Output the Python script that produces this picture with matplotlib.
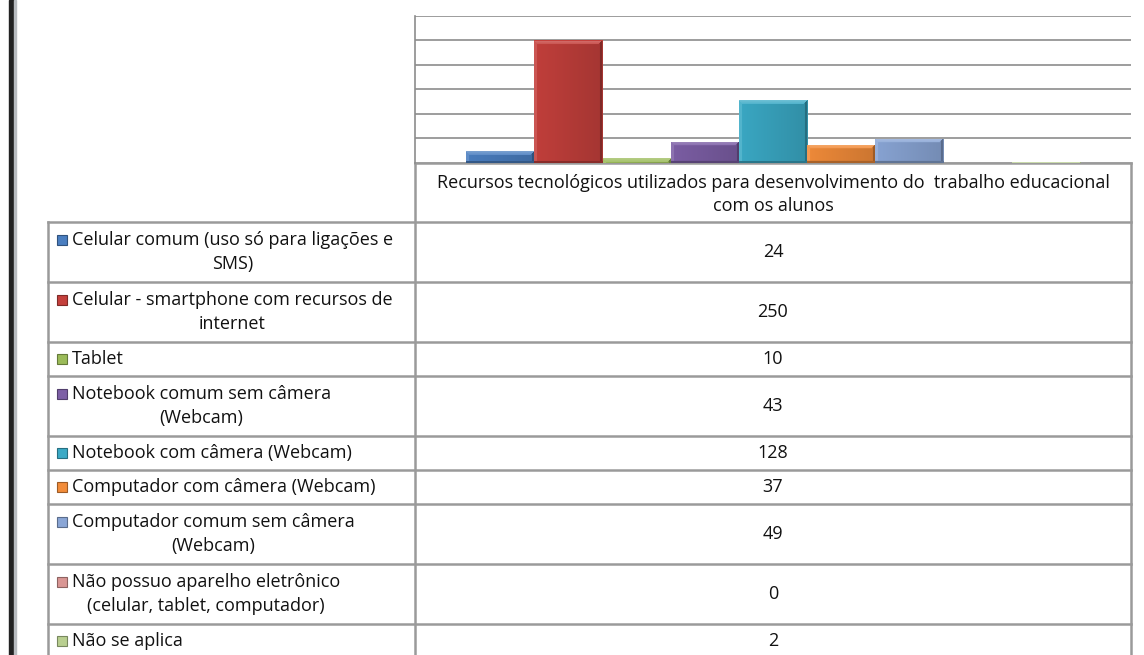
import numpy as np
import matplotlib
matplotlib.use("Agg")
import matplotlib.pyplot as plt
import matplotlib.colors as mcolors
from matplotlib.patches import Rectangle

# dados
categoria = "Recursos tecnológicos utilizados para desenvolvimento do  trabalho educacional\ncom os alunos"
rotulos = [
    "Celular comum (uso só para ligações e\nSMS)",
    "Celular - smartphone com recursos de\ninternet",
    "Tablet",
    "Notebook comum sem câmera\n(Webcam)",
    "Notebook com câmera (Webcam)",
    "Computador com câmera (Webcam)",
    "Computador comum sem câmera\n(Webcam)",
    "Não possuo aparelho eletrônico\n(celular, tablet, computador)",
    "Não se aplica",
]
valores = [24, 250, 10, 43, 128, 37, 49, 0, 2]
cores = ["#4A7EC0", "#C4403C", "#9BBB59", "#7D5FA6", "#3BAAC6",
         "#F28C3A", "#8AA6D6", "#D99694", "#B9CF90"]

W, H = 1144, 655
fonte = "Open Sans"
tam = 13
entrelinha = 1.38


def sombra(c, f):
    c = np.array(mcolors.to_rgb(c))
    if f >= 0:
        return c + (1 - c) * f
    return c * (1 + f)


fig = plt.figure(figsize=(W / 100, H / 100), dpi=100)
base = fig.add_axes([0, 0, 1, 1])
base.set_xlim(0, W)
base.set_ylim(H, 0)
base.axis("off")

# barra preta à esquerda
base.add_patch(Rectangle((9, 0), 5, H, color="#222222", zorder=5))
base.add_patch(Rectangle((14, 0), 1.5, H, color="#b8bcc0", zorder=5))

# área do gráfico
x_esq, x_dir, y_top, y_base = 415, 1131, 16, 163
ax = fig.add_axes([x_esq / W, 1 - y_base / H, (x_dir - x_esq) / W, (y_base - y_top) / H])
n = len(valores)
pos = np.arange(n)
barras = ax.bar(pos, valores, width=1.0, color=cores, edgecolor="none", zorder=2)
ax.set_xlim(-1.25, n + 0.25)
ax.set_ylim(0, 300)
ax.set_yticks(np.arange(0, 301, 50))
ax.yaxis.grid(True, color="#8c8c8c", linewidth=1.2)
ax.set_axisbelow(True)
ax.tick_params(left=False, bottom=False, labelleft=False, labelbottom=False)
for lado in ["top", "right", "bottom"]:
    ax.spines[lado].set_visible(False)
ax.spines["left"].set_color("#8c8c8c")
ax.spines["left"].set_linewidth(1.2)

# efeito de bisel nas barras
for b, c in zip(barras, cores):
    h = b.get_height()
    if h <= 0:
        continue
    x0, w = b.get_x(), b.get_width()
    (px0, py0), (px1, py1) = ax.transData.transform([(x0, 0), (x0 + w, h)])
    nx = max(int(round(px1 - px0)), 2)
    ny = max(int(round(py1 - py0)), 1)
    img = np.zeros((ny, nx, 3))
    t = np.linspace(0, 1, nx)
    fx = -0.02 - 0.14 * t
    fx[:3] = 0.12
    fx[-3:] = -0.35
    fx[-1] = -0.15
    for j in range(ny):
        for i in range(nx):
            f = fx[i]
            if j < 4 and j <= i < nx - 1 - j:
                f = 0.25 - 0.04 * j
            elif j >= ny - 2 and ny > 6:
                f = -0.3
            img[j, i] = sombra(c, f)
    im = ax.imshow(np.clip(img, 0, 1), extent=(x0, x0 + w, 0, h), aspect="auto",
                   origin="upper", interpolation="bilinear", zorder=3)
    im.set_clip_path(b)
ax.set_xlim(-1.25, n + 0.25)
ax.set_ylim(0, 300)

# tabela de dados
cor_linha = "#9a9a9a"
lw = 1.8
x_leg = 48
y_cab = 222
base.text((x_esq + x_dir) / 2, (y_base + y_cab) / 2 + 2, categoria, ha="center", va="center",
          fontsize=tam, family=fonte, color="#111111", linespacing=entrelinha)

alturas = [60 if "\n" in r else 34 for r in rotulos]
limites = [y_cab]
for a in alturas:
    limites.append(limites[-1] + a)

base.plot([x_esq, x_dir], [y_base, y_base], color=cor_linha, lw=lw)
base.plot([x_esq, x_esq], [y_base, limites[-1]], color=cor_linha, lw=lw)
base.plot([x_dir, x_dir], [y_base, limites[-1]], color=cor_linha, lw=lw)
base.plot([x_leg, x_leg], [y_cab, limites[-1]], color=cor_linha, lw=lw)
for yl in limites[:-1]:
    base.plot([x_leg, x_dir], [yl, yl], color=cor_linha, lw=lw)

for k, (rot, val, c) in enumerate(zip(rotulos, valores, cores)):
    y0, y1 = limites[k], limites[k + 1]
    yc = (y0 + y1) / 2
    nl = rot.count("\n") + 1
    y_primeira = yc - (nl - 1) * 12
    base.add_patch(Rectangle((57, y_primeira - 5), 10, 10, facecolor=c,
                             edgecolor=sombra(c, -0.35), lw=0.8))
    base.text(72, yc, rot, ha="left", va="center", multialignment="center",
              fontsize=tam, family=fonte, color="#111111", linespacing=entrelinha)
    base.text((x_esq + x_dir) / 2, yc, str(val), ha="center", va="center",
              fontsize=tam, family=fonte, color="#111111")

fig.savefig("out.png", dpi=100)
